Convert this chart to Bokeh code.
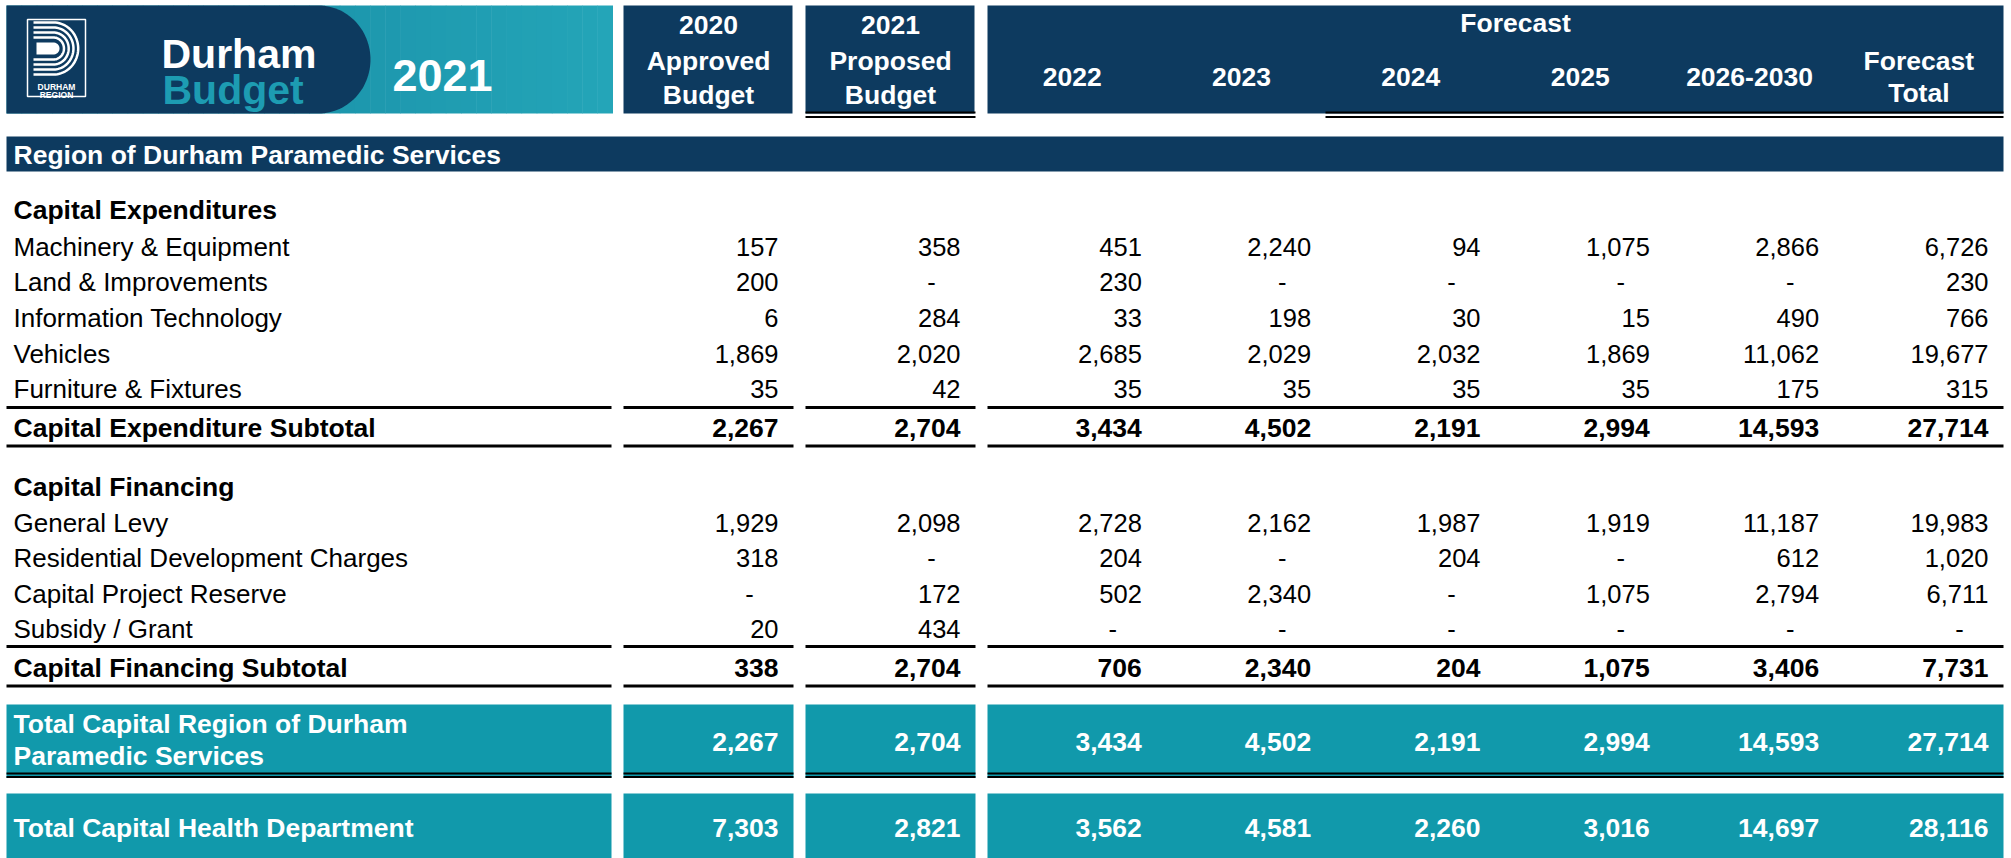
import numpy as np
from bokeh.plotting import figure
from bokeh.models import ColumnDataSource, Range1d
from bokeh.embed import file_html
from bokeh.resources import INLINE
from bokeh.core.properties import value

# ---------------- data ----------------
title = "Region of Durham Paramedic Services"
budget_years = ["2020", "2021"]
budget_kind = ["Approved", "Proposed"]
budget_word = ["Budget", "Budget"]
forecast_label = "Forecast"
forecast_years = ["2022", "2023", "2024", "2025", "2026-2030"]
forecast_total = ["Forecast", "Total"]

exp_heading = "Capital Expenditures"
exp_labels = ["Machinery & Equipment", "Land & Improvements", "Information Technology",
              "Vehicles", "Furniture & Fixtures"]
machinery = [157, 358, 451, 2240, 94, 1075, 2866, 6726]
land = [200, None, 230, None, None, None, None, 230]
info_tech = [6, 284, 33, 198, 30, 15, 490, 766]
vehicles = [1869, 2020, 2685, 2029, 2032, 1869, 11062, 19677]
furniture = [35, 42, 35, 35, 35, 35, 175, 315]
exp_subtotal_label = "Capital Expenditure Subtotal"
exp_subtotal = [2267, 2704, 3434, 4502, 2191, 2994, 14593, 27714]

fin_heading = "Capital Financing"
fin_labels = ["General Levy", "Residential Development Charges", "Capital Project Reserve",
              "Subsidy / Grant"]
general_levy = [1929, 2098, 2728, 2162, 1987, 1919, 11187, 19983]
res_dev_charges = [318, None, 204, None, 204, None, 612, 1020]
cap_reserve = [None, 172, 502, 2340, None, 1075, 2794, 6711]
subsidy = [20, 434, None, None, None, None, None, None]
fin_subtotal_label = "Capital Financing Subtotal"
fin_subtotal = [338, 2704, 706, 2340, 204, 1075, 3406, 7731]

total1_label = ["Total Capital Region of Durham", "Paramedic Services"]
total1 = [2267, 2704, 3434, 4502, 2191, 2994, 14593, 27714]
total2_label = "Total Capital Health Department"
total2 = [7303, 2821, 3562, 4581, 2260, 3016, 14697, 28116]

# ---------------- styling / layout ----------------
FONT = "Liberation Sans"
NAVY = "#0d3a5f"
TEAL = "#1199ab"
FS_LABEL = "26px"
FS_NUM = "25.5px"
FS_BOLD = "26.5px"

W, H = 2011, 858
p = figure(width=W, height=H, x_range=Range1d(0, W), y_range=Range1d(H, 0),
           output_backend="svg", toolbar_location=None, tools="", min_border=0)
p.axis.visible = False
p.grid.visible = False
p.outline_line_color = None
p.background_fill_color = "white"
p.border_fill_color = "white"

FW = (2003 - 987) / 6.0
col_l = [623, 805] + [987 + k * FW for k in range(6)]
col_r = [793, 975] + [987 + (k + 1) * FW for k in range(6)]
val_x = [r - 15 for r in col_r]
spans = [(6, 611), (623, 793), (805, 975), (987, 2003)]


def txt(xs, ys, texts, size=FS_LABEL, bold=False, color="black", align="left", baseline="middle"):
    src = ColumnDataSource(dict(x=list(xs), y=list(ys), t=list(texts)))
    p.text(x="x", y="y", text="t", source=src, text_font=value(FONT), text_font_size=size,
           text_font_style="bold" if bold else "normal", text_color=color,
           text_align=align, text_baseline=baseline)


def values_row(vals, y, bold=False, color="black"):
    size = FS_BOLD if bold else FS_NUM
    nx, ny, nt, dx, dy = [], [], [], [], []
    for j, v in enumerate(vals):
        if v is None:
            dx.append(val_x[j] - 29); dy.append(y)
        else:
            nx.append(val_x[j]); ny.append(y); nt.append(f"{v:,}")
    if nx:
        txt(nx, ny, nt, size=size, bold=bold, color=color, align="right")
    if dx:
        txt(dx, dy, ["-"] * len(dx), size=size, bold=bold, color=color, align="center")


def hlines(y, width=3, segs=spans, color="black"):
    p.segment(x0=[a for a, b in segs], x1=[b for a, b in segs], y0=[y] * len(segs),
              y1=[y] * len(segs), line_color=color, line_width=width)


# ---------------- banner ----------------
n = 40
gx = np.linspace(6, 612, n + 1)
c0 = np.array([0x15, 0x86, 0xa0]); c1 = np.array([0x24, 0xa5, 0xb8])
cols = ["#%02x%02x%02x" % tuple((c0 + (c1 - c0) * k / (n - 1)).astype(int)) for k in range(n)]
p.quad(left=gx[:-1], right=gx[1:] + 0.5, top=[5] * n, bottom=[113] * n, fill_color=cols, line_color=None)
t = np.linspace(-np.pi / 2, np.pi / 2, 60)
bx = [6] + list(318 + 52 * np.cos(t)) + [6]
by = [5] + list(59 + 54 * np.sin(t)) + [113]
p.patch(bx, by, fill_color=NAVY, line_color=None)

# logo
p.quad(left=[27], right=[85], top=[19], bottom=[96], fill_color=None, line_color="white", line_width=1.5)
cx, cy = 53, 48
xs, ys = [], []
for r in [11, 16, 21, 26]:
    tt = np.linspace(-np.pi / 2, np.pi / 2, 40)
    xs.append([33] + list(cx + r * 0.95 * np.cos(tt)) + [33])
    ys.append([cy - r] + list(cy + r * np.sin(tt)) + [cy + r])
p.multi_line(xs, ys, line_color="white", line_width=2.5)
tt = np.linspace(-np.pi / 2, np.pi / 2, 40)
p.patch([36] + list(cx + 6 * np.cos(tt)) + [36], [cy - 6] + list(cy + 6 * np.sin(tt)) + [cy + 6],
        fill_color="white", line_color=None)
txt([56, 56], [86, 94], ["DURHAM", "REGION"], size="8.5px", bold=True, color="white",
    align="center", baseline="alphabetic")

txt([161], [53], ["Durham"], size="41px", bold=True, color="white", baseline="alphabetic")
txt([162], [89], ["Budget"], size="41px", bold=True, color="#1d9cb2", baseline="alphabetic")
txt([392], [75], ["2021"], size="45px", bold=True, color="white", baseline="alphabetic")

# ---------------- header boxes ----------------
p.quad(left=[623, 805, 987], right=[792, 974, 2003], top=[5] * 3, bottom=[113] * 3,
       fill_color=NAVY, line_color=None)
for j in range(2):
    cxh = (col_l[j] + col_r[j]) / 2
    txt([cxh] * 3, [24, 60, 94], [budget_years[j], budget_kind[j], budget_word[j]],
        size=FS_BOLD, bold=True, color="white", align="center")
txt([1515], [22], [forecast_label], size=FS_BOLD, bold=True, color="white", align="center")
fc = [(col_l[k + 2] + col_r[k + 2]) / 2 for k in range(5)]
txt(fc, [76] * 5, forecast_years, size=FS_BOLD, bold=True, color="white", align="center")
tc = (col_l[7] + col_r[7]) / 2
txt([tc, tc], [60, 92], forecast_total, size=FS_BOLD, bold=True, color="white", align="center")
hlines(112, width=2, segs=[(805, 975), (1325, 2003)])
hlines(116.5, width=2, segs=[(805, 975), (1325, 2003)])

# ---------------- title bar ----------------
p.quad(left=[6], right=[2003], top=[136], bottom=[171], fill_color=NAVY, line_color=None)
txt([13], [154], [title], size=FS_BOLD, bold=True, color="white")

# ---------------- capital expenditures ----------------
txt([13], [209], [exp_heading], size=FS_BOLD, bold=True)
exp_rows = [machinery, land, info_tech, vehicles, furniture]
ey = [246 + i * 35.7 for i in range(len(exp_rows))]
txt([13] * len(exp_labels), ey, exp_labels)
for vals, y in zip(exp_rows, ey):
    values_row(vals, y)
hlines(407)
txt([13], [427], [exp_subtotal_label], size=FS_BOLD, bold=True)
values_row(exp_subtotal, 427, bold=True)
hlines(445.5)

# ---------------- capital financing ----------------
txt([13], [486], [fin_heading], size=FS_BOLD, bold=True)
fin_rows = [general_levy, res_dev_charges, cap_reserve, subsidy]
fy = [522 + i * 35.5 for i in range(len(fin_rows))]
txt([13] * len(fin_labels), fy, fin_labels)
for vals, y in zip(fin_rows, fy):
    values_row(vals, y)
hlines(646)
txt([13], [667], [fin_subtotal_label], size=FS_BOLD, bold=True)
values_row(fin_subtotal, 667, bold=True)
hlines(685.5)

# ---------------- totals ----------------
p.quad(left=[a for a, b in spans], right=[b for a, b in spans], top=[704] * 4, bottom=[777.5] * 4,
       fill_color=TEAL, line_color=None)
hlines(773, width=2)
hlines(776.5, width=2)
txt([13, 13], [723, 755], total1_label, size=FS_BOLD, bold=True, color="white")
values_row(total1, 741, bold=True, color="white")

p.quad(left=[a for a, b in spans], right=[b for a, b in spans], top=[793] * 4, bottom=[860] * 4,
       fill_color=TEAL, line_color=None)
txt([13], [827], [total2_label], size=FS_BOLD, bold=True, color="white")
values_row(total2, 827, bold=True, color="white")

open("out.html", "w").write(file_html(p, INLINE))
